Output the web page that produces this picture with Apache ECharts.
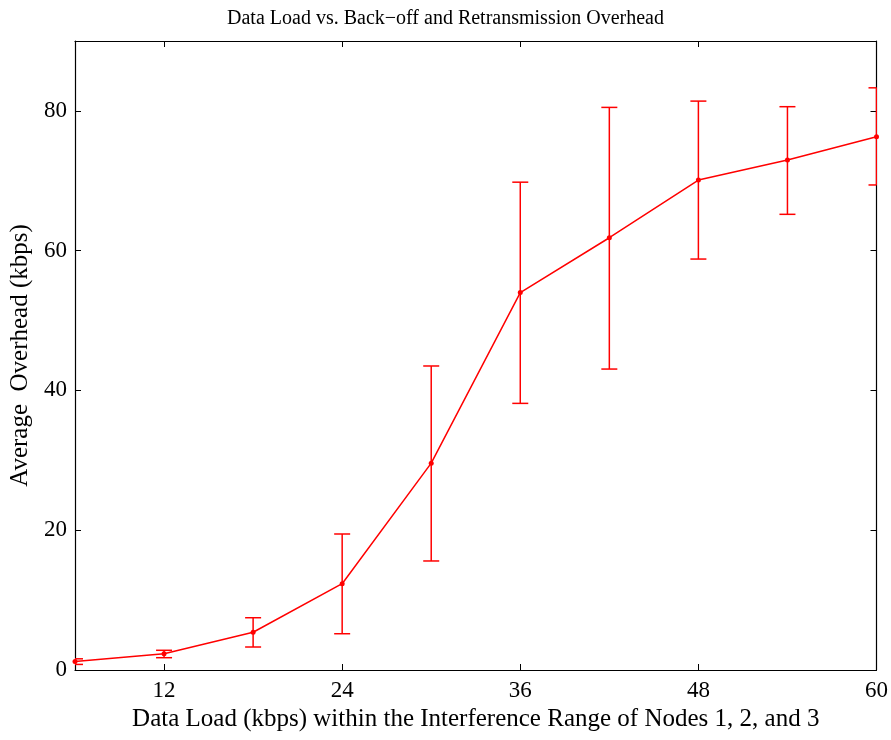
<!DOCTYPE html>
<html>
<head>
<meta charset="utf-8">
<script src="https://cdn.jsdelivr.net/npm/echarts@6/dist/echarts.min.js"></script>
<style>html,body{margin:0;padding:0;background:#fff}#c{width:891px;height:740px}</style>
</head>
<body>
<div id="c"></div>
<script>
var loads = [6, 12, 18, 24, 30, 36, 42, 48, 54, 60];
var overhead = [1.2, 2.33, 5.4, 12.35, 29.6, 54.0, 61.85, 70.1, 72.96, 76.3];
var errLow = [0.8, 1.76, 3.29, 5.19, 15.6, 38.15, 43.06, 58.8, 65.2, 69.4];
var errHigh = [1.6, 2.82, 7.48, 19.46, 43.5, 69.8, 80.5, 81.4, 80.6, 83.3];
var xTicks = [12, 24, 36, 48, 60];
var yTicks = [0, 20, 40, 60, 80];

var font = 'Liberation Serif';
var lineData = loads.map(function (x, i) { return [x, overhead[i]]; });
var errData = loads.map(function (x, i) { return [x, errLow[i], errHigh[i]]; });

var chart = echarts.init(document.getElementById('c'));
var axisLineStyle = { color: '#000', width: 1.2 };
function xAxisDef(pos, show) {
  return {
    type: 'value', position: pos, min: 6, max: 60,
    axisLine: { show: true, onZero: false, lineStyle: axisLineStyle },
    axisTick: { show: true, inside: true, length: 6, customValues: xTicks, lineStyle: { color: '#000' } },
    axisLabel: { show: show, customValues: xTicks, color: '#000', fontFamily: font, fontSize: 23, margin: 9 },
    splitLine: { show: false }
  };
}
function yAxisDef(pos, show) {
  return {
    type: 'value', position: pos, min: 0, max: 90,
    axisLine: { show: true, onZero: false, lineStyle: axisLineStyle },
    axisTick: { show: true, inside: true, length: 6, customValues: yTicks, lineStyle: { color: '#000' } },
    axisLabel: { show: show, customValues: yTicks, color: '#000', fontFamily: font, fontSize: 23, margin: 8 },
    splitLine: { show: false }
  };
}
var xa = xAxisDef('bottom', true);
xa.name = 'Data Load (kbps) within the Interference Range of Nodes 1, 2, and 3';
xa.nameLocation = 'middle';
xa.nameGap = 35;
xa.nameTextStyle = { color: '#000', fontFamily: font, fontSize: 25 };
var xb = xAxisDef('top', false);
var ya = yAxisDef('left', true);
ya.name = 'Average  Overhead (kbps)';
ya.nameLocation = 'middle';
ya.nameGap = 42;
ya.nameTextStyle = { color: '#000', fontFamily: font, fontSize: 25 };
var yb = yAxisDef('right', false);

chart.setOption({
  animation: false,
  backgroundColor: '#fff',
  title: {
    text: 'Data Load vs. Back\u2212off and Retransmission Overhead',
    left: 'center', top: 4,
    textStyle: { color: '#000', fontFamily: font, fontSize: 20, fontWeight: 'normal' }
  },
  grid: { left: 75, right: 14, top: 41, bottom: 70 },
  xAxis: [xa, xb],
  yAxis: [ya, yb],
  series: [
    {
      type: 'custom',
      xAxisIndex: 0, yAxisIndex: 0,
      clip: true,
      data: errData,
      encode: { x: 0, y: [1, 2] },
      renderItem: function (params, api) {
        var cs = params.coordSys;
        var x = api.value(0);
        var lo = api.coord([x, api.value(1)]);
        var hi = api.coord([x, api.value(2)]);
        var hw = 8;
        var xl = Math.max(lo[0] - hw, cs.x);
        var xr = Math.min(lo[0] + hw, cs.x + cs.width);
        var st = { stroke: '#ff0000', lineWidth: 1.5 };
        return {
          type: 'group',
          children: [
            { type: 'line', shape: { x1: lo[0], y1: lo[1], x2: hi[0], y2: hi[1] }, style: st },
            { type: 'line', shape: { x1: xl, y1: lo[1], x2: xr, y2: lo[1] }, style: st },
            { type: 'line', shape: { x1: xl, y1: hi[1], x2: xr, y2: hi[1] }, style: st }
          ]
        };
      },
      z: 3
    },
    {
      type: 'line',
      xAxisIndex: 0, yAxisIndex: 0,
      data: lineData,
      symbol: 'circle', symbolSize: 5,
      lineStyle: { color: '#ff0000', width: 1.5 },
      itemStyle: { color: '#ff0000' },
      z: 4
    }
  ]
});
</script>
</body>
</html>
